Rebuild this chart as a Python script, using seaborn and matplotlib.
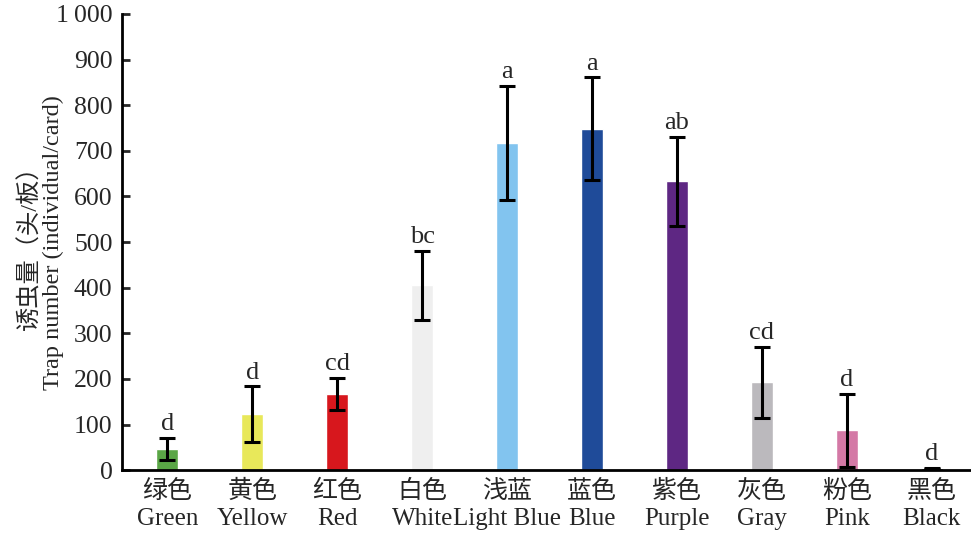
import matplotlib
matplotlib.use('Agg')
import matplotlib.pyplot as plt
import seaborn as sns

categories = ['绿色\nGreen', '黄色\nYellow', '红色\nRed', '白色\nWhite', '浅蓝\nLight Blue',
              '蓝色\nBlue', '紫色\nPurple', '灰色\nGray', '粉色\nPink', '黑色\nBlack']
means = [47, 123, 168, 405, 717, 748, 633, 193, 88, 4]
errors = [24, 61, 35, 76, 125, 113, 97, 78, 80, 1]
letters = ['d', 'd', 'cd', 'bc', 'a', 'a', 'ab', 'cd', 'd', 'd']
colors = ['#5aa646', '#e8e85a', '#d7171d', '#efefef', '#82c4ef',
          '#1f4b99', '#5e2783', '#bbb9bd', '#d479a6', '#000000']
yticks = [0, 100, 200, 300, 400, 500, 600, 700, 800, 900, 1000]
ytick_labels = ['0', '100', '200', '300', '400', '500', '600', '700', '800', '900', '1\u2009000']

sns.set_style('ticks')
plt.rcParams['font.family'] = ['Liberation Serif', 'Noto Sans CJK SC']

fig = plt.figure(figsize=(9.71, 5.35), dpi=100)
ax = fig.add_axes([0.126, 0.121, 0.873, 0.853])

sns.barplot(x=categories, y=means, hue=categories, palette=colors, legend=False,
            width=0.26, ax=ax, saturation=1)
xs = list(range(len(categories)))
ax.errorbar(xs, means, yerr=errors, fmt='none', ecolor='black',
            elinewidth=2.2, capsize=5.5, capthick=2.2)

for x, m, e, t in zip(xs, means, errors, letters):
    ax.annotate(t, (x, m + e), xytext=(0, 2), textcoords='offset points',
                ha='center', va='bottom', fontsize=19)

ax.set_ylim(0, 1000)
ax.set_xlim(-0.53, 9.45)
ax.set_yticks(yticks)
ax.set_yticklabels(ytick_labels, fontsize=18.5)
ax.tick_params(axis='y', direction='in', length=6, width=2, pad=7)
ax.tick_params(axis='x', length=0, labelsize=18, pad=7)
for lab in ax.get_xticklabels():
    lab.set_linespacing(1.3)
ax.set_ylabel('诱虫量（头/板）\nTrap number (individual/card)', fontsize=17.5,
              linespacing=1.05)
ax.yaxis.set_label_coords(-0.069, 0.5)
ax.set_xlabel('')
for s in ['top', 'right']:
    ax.spines[s].set_visible(False)
for s in ['left', 'bottom']:
    ax.spines[s].set_linewidth(2)
    ax.spines[s].set_color('black')

fig.savefig('out.png', dpi=100)
